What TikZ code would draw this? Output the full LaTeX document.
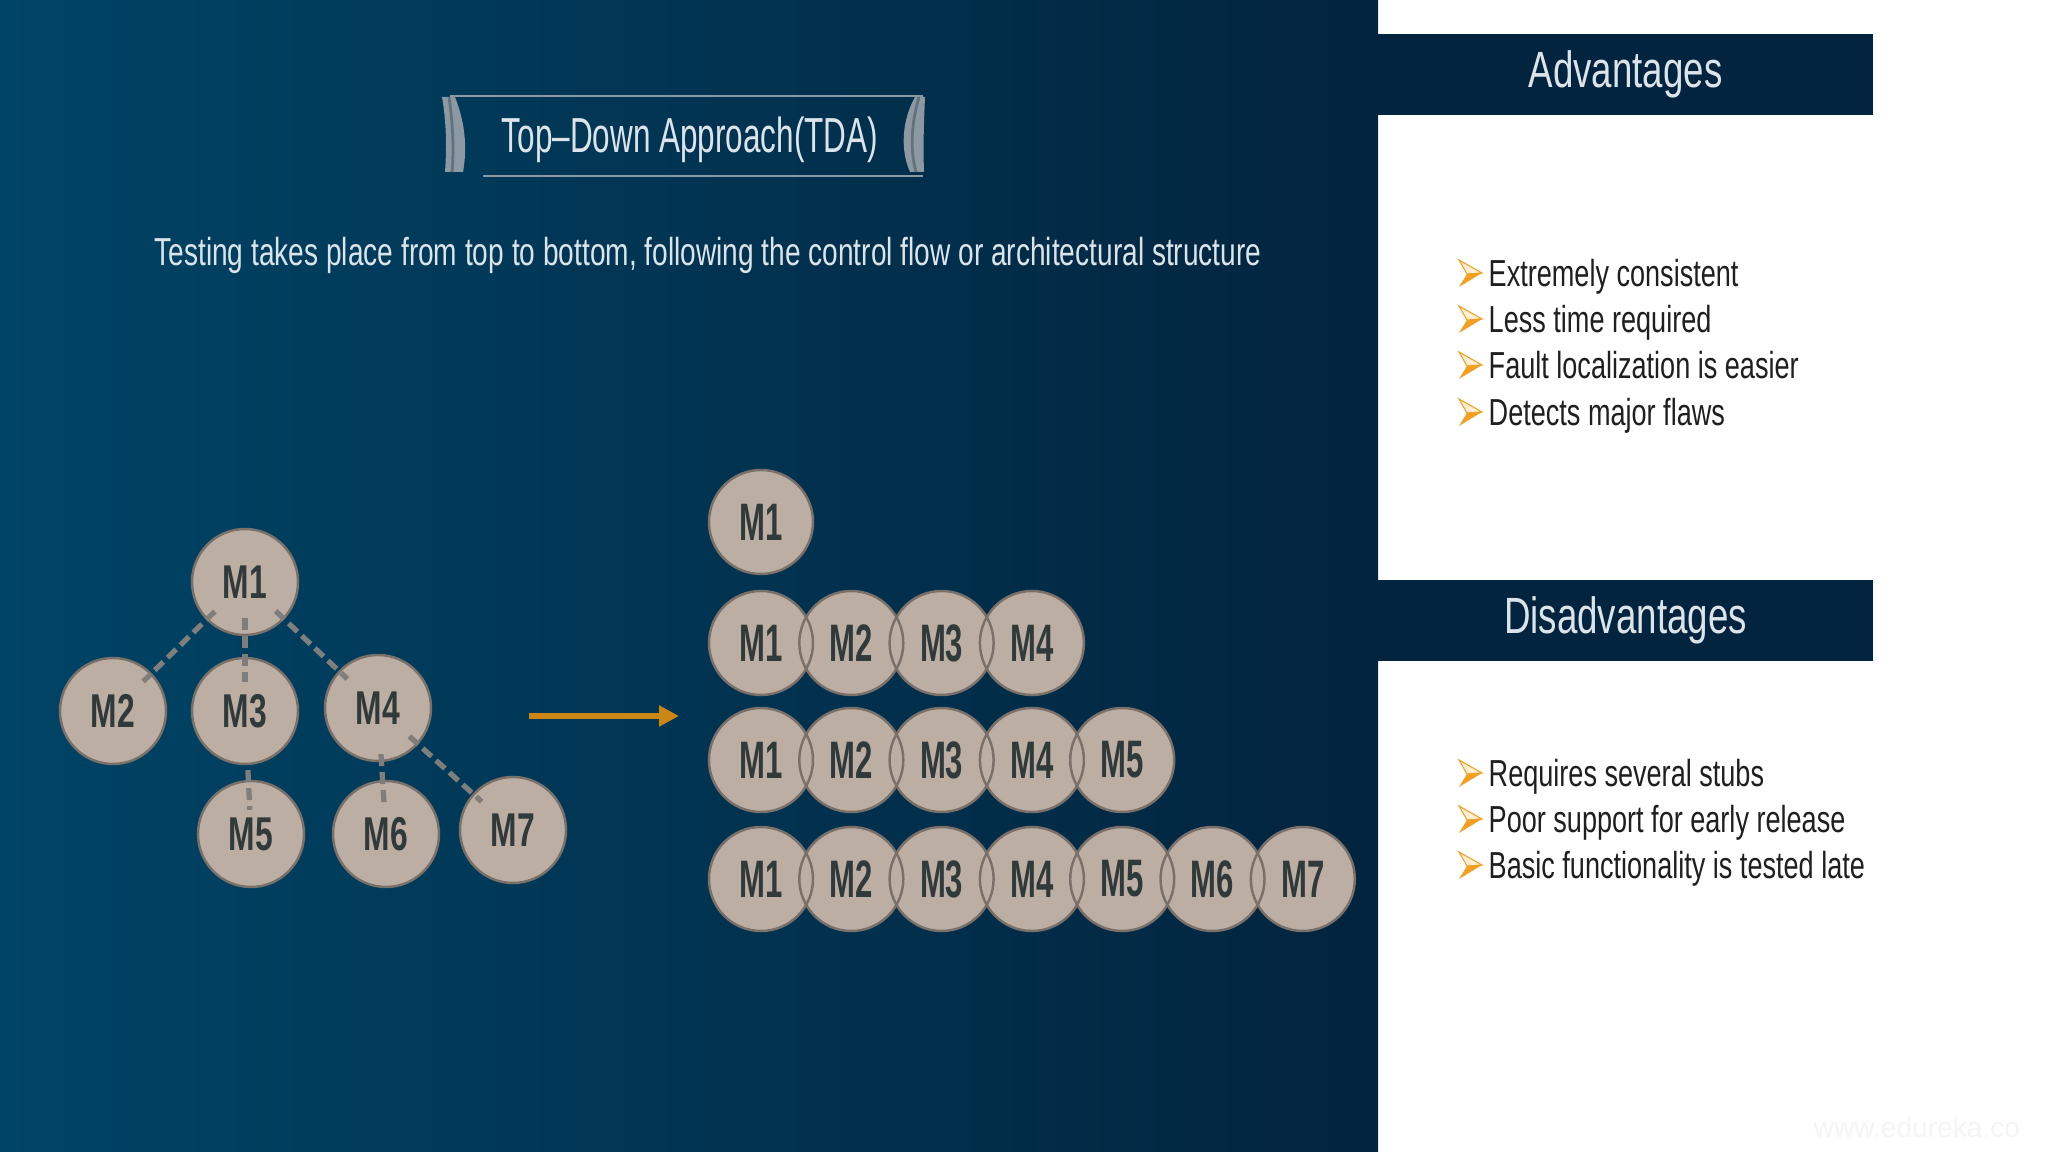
\documentclass[tikz,border=0pt]{standalone}
\usepackage{fontspec}
\usetikzlibrary{arrows.meta,positioning,shapes.geometric}
\setmainfont{Liberation Sans}
\newfontfamily\slim[FakeStretch=0.72]{Liberation Sans}
\newfontfamily\slimtitle[FakeStretch=0.64]{Liberation Sans}
\newfontfamily\slimbold[FakeStretch=0.67]{Liberation Sans}
\newfontfamily\slimboldn[FakeStretch=0.59]{Liberation Sans}
\definecolor{bgleft}{RGB}{0,68,102}
\definecolor{bgmid}{RGB}{1,59,91}
\definecolor{bgright}{RGB}{2,36,62}
\definecolor{navy}{RGB}{2,36,62}
\definecolor{paper}{RGB}{220,228,234}
\definecolor{ribbon}{RGB}{140,152,162}
\definecolor{ribbondark}{RGB}{100,114,126}
\definecolor{sand}{RGB}{188,174,163}
\definecolor{sandrim}{RGB}{122,112,106}
\definecolor{ink}{RGB}{48,58,58}
\definecolor{dashgray}{RGB}{128,126,124}
\definecolor{amber}{RGB}{204,134,22}
\definecolor{tick}{RGB}{243,160,34}
\definecolor{ticklight}{RGB}{255,238,210}
\newcommand{\bulletarrow}[1]{%
  \begin{scope}[shift={#1}]
    \filldraw[fill=ticklight,draw=tick,line width=0.3pt] (0,-27) -- (23,-14) -- (8,-13) -- cycle;
    \fill[tick] (8,-13) -- (23,-14) -- (0,0) -- cycle;
  \end{scope}}

\begin{document}
\begin{tikzpicture}[x=0.1mm,y=-0.1mm,
 module/.style={circle,fill=sand,draw=sandrim,line width=0.7pt,minimum size=10.6mm,inner sep=0pt,text=ink,font=\slimbold\bfseries\fontsize{13.5}{13.5}\selectfont},
 chain/.style={module,minimum size=10.4mm,draw=none,font=\slimboldn\bfseries\fontsize{15}{15}\selectfont},
 rim/.style={draw=sandrim,line width=0.7pt},
 link/.style={draw=dashgray,line width=1.5pt,dash pattern=on 1.2mm off 0.6mm,shorten <=-1.2mm,shorten >=-1.2mm},
 head/.style={fill=navy,minimum width=49.5mm,minimum height=8.1mm,inner sep=0pt,text=paper,font=\slim\fontsize{14.5}{14.5}\selectfont},
 point/.style={anchor=base west,inner sep=0pt,text=black!88,font=\slim\fontsize{10.7}{10.7}\selectfont}]
\useasboundingbox (0,0) rectangle (2048,1152);
\fill[white] (0,0) rectangle (2048,1152);
\shade[left color=bgleft,middle color=bgmid,right color=bgright] (0,0) rectangle (1378,1152);

\draw[ribbon,line width=0.7pt] (450,96) -- (923,96);
\draw[ribbon,line width=0.7pt] (483,176) -- (923,176);
\fill[ribbon] (442,97) -- (455,97) .. controls (466,125) and (467,150) .. (463,172) -- (445,172) .. controls (447,145) and (446,120) .. (442,97) -- cycle;
\draw[ribbondark,line width=0.8pt] (449,97) .. controls (453,125) and (454,150) .. (452,172);
\fill[ribbon] (925,97) -- (915,97) .. controls (902,120) and (900,150) .. (910,172) -- (924,172) .. controls (923,145) and (924,120) .. (925,97) -- cycle;
\draw[ribbondark,line width=0.8pt] (919,97) .. controls (911,125) and (910,150) .. (916,172);
\node[anchor=base,inner sep=0pt,text=paper,font=\slimtitle\fontsize{14}{14}\selectfont] (title) at (690,153) {Top–Down Approach(TDA)};
\node[anchor=base,inner sep=0pt,text=paper,font=\slim\fontsize{11.1}{11.1}\selectfont] (lead) at (708,266) {Testing takes place from top to bottom, following the control flow or architectural structure};

\node[module] (m1) at (245,582) {M1};
\node[module] (m2) at (113,711) {M2};
\node[module] (m3) at (245,711) {M3};
\node[module] (m4) at (378,708) {M4};
\node[module] (m5) at (251,834) {M5};
\node[module] (m6) at (386,834) {M6};
\node[module] (m7) at (513,830) {M7};
\draw[link] (m1) -- (m2);
\draw[link,shorten <=-1.8mm,shorten >=-2.5mm] (m1) -- (m3);
\draw[link,shorten <=0.5mm,shorten >=-3mm] (m3) -- (m5);
\draw[link] (m1) -- (m4);
\draw[link,shorten <=-0.8mm,shorten >=-2.5mm] (m4) -- (m6);
\draw[link] (m4) -- (m7);

\coordinate (flowstart) at (529,716);
\coordinate (flowend) at (679,716);
\draw[amber,line width=1.8pt,-{Triangle[length=2mm,width=2mm]}] (flowstart) -- (flowend);

\node[chain] (r0-1) at (761,522) {M1};
\draw[rim] (r0-1.center) circle[radius=52];
\foreach \n/\y [count=\r] in {4/643,5/760,7/879} {
  \foreach \k in {1,...,\n}
    \node[chain] (r\r-\k) at ({761+90.3*(\k-1)},\y) {M\k};
  \foreach \k in {1,...,\n}
    \draw[rim] (r\r-\k.center) circle[radius=52];
}

\node[head] (advhead) at (1625.5,74.5) {Advantages};
\node[head] (dishead) at (1625.5,620.5) {Disadvantages};
\foreach \y/\txt [count=\i] in {287/Extremely consistent,333/Less time required,379/Fault localization is easier,426/Detects major flaws} {
  \bulletarrow{(1459,\y)}
  \node[point] (adv\i) at (1488,\y) {\txt};
}
\foreach \y/\txt [count=\i] in {787/Requires several stubs,833/Poor support for early release,879/Basic functionality is tested late} {
  \bulletarrow{(1459,\y)}
  \node[point] (dis\i) at (1488,\y) {\txt};
}
\node[anchor=base west,inner sep=0pt,text=black!4,font=\fontsize{8}{8}\selectfont] (site) at (1813,1138) {www.edureka.co};
\end{tikzpicture}
\end{document}
